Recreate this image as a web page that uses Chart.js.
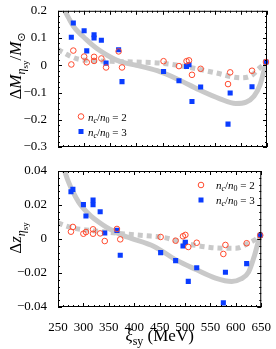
<!DOCTYPE html>
<html>
<head>
<meta charset="utf-8">
<script src="https://cdn.jsdelivr.net/npm/chart.js@4"></script>
<style>
  body { margin: 0; background: #fff; }
  #marco { position: relative; width: 276px; height: 349px; }
  canvas { position: absolute; left: 0; }
</style>
</head>
<body>
<div id="marco">
  <canvas id="panelM" width="276" height="160" style="top:0;width:276px;height:160px"></canvas>
  <canvas id="panelZ" width="276" height="189" style="top:160px;width:276px;height:189px"></canvas>
</div>
<script>
// valores de xi_sy (MeV) de cada modelo
const xiSy = [275.5, 279.3, 300, 305, 319, 319, 333, 342, 366, 372.5, 452, 481.5, 496, 500.7, 506.4, 523, 575.4, 579.5, 621.3, 648];

// Delta M / M_sun
const dM_nc2 = [0.003, 0.054, 0.032, 0.011, 0.031, 0.016, 0.025, -0.008, 0.051, -0.008, 0.015, -0.003, 0.015, 0.018, -0.035, -0.013, -0.069, -0.026, -0.020, 0.012];
const dM_nc3 = [0.103, 0.155, 0.127, 0.053, 0.112, 0.100, 0.092, 0.008, 0.057, -0.060, -0.023, -0.057, -0.004, 0.002, -0.133, -0.080, -0.216, -0.102, -0.079, 0.012];

// Delta z
const dz_nc2 = [0.0043, 0.0071, 0.0031, 0.0041, 0.0057, 0.0031, 0.0033, -0.0012, 0.0059, -0.0002, 0.0012, -0.0010, 0.0016, 0.0024, -0.0047, -0.0022, -0.0088, -0.0035, -0.0025, 0.0022];
const dz_nc3 = [0.0278, 0.0292, 0.0202, 0.0135, 0.0229, 0.0202, 0.0160, 0.0035, 0.0051, -0.0096, -0.0080, -0.0127, -0.0041, -0.0020, -0.0249, -0.0169, -0.0376, -0.0196, -0.0145, 0.0022];

// curvas grises (ajustes)
const curvaM3_x = [263, 270, 280, 290, 300, 315, 330, 345, 362, 380, 400, 440, 480, 520, 560, 590, 610, 625, 637, 645, 650];
const curvaM3_y = [0.2, 0.175, 0.142, 0.12, 0.102, 0.076, 0.054, 0.036, 0.019, 0.008, 0.0, -0.02, -0.052, -0.09, -0.123, -0.14, -0.135, -0.114, -0.07, -0.015, 0.012];
const curvaM2_x = [250, 262, 275, 290, 320, 360, 400, 450, 500, 550, 600, 620, 637, 650];
const curvaM2_y = [0.058, 0.045, 0.032, 0.022, 0.017, 0.014, 0.012, 0.007, -0.007, -0.027, -0.046, -0.038, -0.008, 0.012];
const curvaZ3_x = [263, 270, 279, 290, 300, 315, 330, 345, 362, 380, 394, 440, 483, 522, 560, 592, 610, 625, 637, 645, 650];
const curvaZ3_y = [0.04, 0.034, 0.028, 0.022, 0.018, 0.0135, 0.010, 0.007, 0.0043, 0.0018, 0.0004, -0.0045, -0.0124, -0.018, -0.023, -0.025, -0.0235, -0.0195, -0.0094, -0.001, 0.0022];
const curvaZ2_x = [250, 265, 280, 300, 340, 380, 420, 460, 500, 550, 600, 625, 640, 650];
const curvaZ2_y = [0.0095, 0.0078, 0.0065, 0.0055, 0.0042, 0.003, 0.002, 0.0008, -0.0025, -0.005, -0.0055, -0.0025, 0.0, 0.0022];

// etiquetas de los ejes
const ticksX = [250, 300, 350, 400, 450, 500, 550, 600, 650];
const ticksM = [-0.3, -0.2, -0.1, 0, 0.1, 0.2];
const ticksZ = [-0.04, -0.02, 0, 0.02, 0.04];

const SERIF = "'Liberation Serif', 'DejaVu Serif', serif";
const ROJO = "#ff4a2e";
const AZUL = "#0a3cff";
const GRIS = "#c9c9c9";

function puntos(xs, ys) {
    return xs.map((x, i) => ({ x: x, y: ys[i] }));
}

function formato(v, dec) {
    if (Math.abs(v) < 1e-9) return "0";
    return (v < 0 ? "\u2212" : "") + Math.abs(v).toFixed(dec);
}

// texto con subindices: partes = [texto, fuente, dy]
function anchoRico(ctx, partes) {
    let w = 0;
    partes.forEach(p => { ctx.font = p[1]; w += ctx.measureText(p[0]).width; });
    return w;
}
function textoRico(ctx, partes, x, y) {
    let cx = x;
    partes.forEach(p => {
        ctx.font = p[1];
        ctx.fillText(p[0], cx, y + p[2]);
        cx += ctx.measureText(p[0]).width;
    });
}

function leyenda(n) {
    return [
        ["n", "italic 11px " + SERIF, 0],
        ["c", "italic 8px " + SERIF, 2],
        ["/", "11px " + SERIF, 0],
        ["n", "italic 11px " + SERIF, 0],
        ["0", "8px " + SERIF, 2],
        [" = " + n, "11px " + SERIF, 0]
    ];
}

// marco, ticks hacia dentro, titulos y leyenda
function pluginMarco(cfg) {
    return {
        id: "marco",
        afterDraw(chart) {
            const ctx = chart.ctx;
            const a = chart.chartArea;
            const sx = chart.scales.x, sy = chart.scales.y;
            ctx.save();
            ctx.strokeStyle = "#000";
            ctx.lineWidth = 1;
            ctx.strokeRect(a.left + 0.5, a.top + 0.5, a.right - a.left - 1, a.bottom - a.top - 1);
            ctx.beginPath();
            for (let v = 250; v <= 650; v += 10) {
                const px = Math.round(sx.getPixelForValue(v)) + 0.5;
                const l = v % 50 === 0 ? 4 : 2;
                ctx.moveTo(px, a.bottom); ctx.lineTo(px, a.bottom - l);
                ctx.moveTo(px, a.top); ctx.lineTo(px, a.top + l);
            }
            for (let k = 0; k <= cfg.nMenor; k++) {
                const v = cfg.min + k * cfg.paso;
                const py = Math.round(sy.getPixelForValue(v)) + 0.5;
                const l = k % 5 === 0 ? 4 : 2;
                ctx.moveTo(a.left, py); ctx.lineTo(a.left + l, py);
                ctx.moveTo(a.right, py); ctx.lineTo(a.right - l, py);
            }
            ctx.stroke();

            // titulo eje y
            ctx.fillStyle = "#000";
            ctx.textBaseline = "alphabetic";
            ctx.translate(cfg.tituloY[0], cfg.tituloY[1]);
            ctx.rotate(-Math.PI / 2);
            const w = anchoRico(ctx, cfg.partesY);
            textoRico(ctx, cfg.partesY, -w / 2, 0);
            ctx.setTransform(1, 0, 0, 1, 0, 0);

            // titulo eje x
            if (cfg.partesX) {
                const wx = anchoRico(ctx, cfg.partesX);
                textoRico(ctx, cfg.partesX, (a.left + a.right) / 2 - wx / 2, cfg.tituloXy);
            }

            // leyenda
            const lx = cfg.leyenda[0], ly = cfg.leyenda[1], tx = cfg.leyenda[2];
            ctx.lineWidth = 1;
            ctx.strokeStyle = ROJO;
            ctx.beginPath();
            ctx.arc(lx, ly, 2.8, 0, Math.PI * 2);
            ctx.stroke();
            ctx.fillStyle = AZUL;
            ctx.fillRect(lx - 2.5, ly + 15 - 2.5, 5, 5);
            ctx.fillStyle = "#000";
            textoRico(ctx, leyenda(2), tx, ly + 4);
            textoRico(ctx, leyenda(3), tx, ly + 19);
            ctx.restore();
        }
    };
}

function crearPanel(id, datos2, datos3, c3x, c3y, c2x, c2y, ticksY, dec, cfg) {
    const ctx = document.getElementById(id).getContext("2d");
    return new Chart(ctx, {
        type: "scatter",
        data: {
            datasets: [
                {
                    data: puntos(xiSy, datos2),
                    pointStyle: "circle",
                    pointRadius: 2.8,
                    borderWidth: 1,
                    borderColor: ROJO,
                    backgroundColor: "rgba(0,0,0,0)",
                    order: 0,
                    clip: 6
                },
                {
                    data: puntos(xiSy, datos3),
                    pointStyle: "rect",
                    pointRadius: 3.6,
                    borderWidth: 0,
                    backgroundColor: AZUL,
                    order: 1,
                    clip: 6
                },
                {
                    data: puntos(c2x, c2y),
                    showLine: true,
                    pointRadius: 0,
                    borderColor: GRIS,
                    borderWidth: 5,
                    borderDash: [5, 4],
                    cubicInterpolationMode: "monotone",
                    order: 2,
                    clip: 0
                },
                {
                    data: puntos(c3x, c3y),
                    showLine: true,
                    pointRadius: 0,
                    borderColor: GRIS,
                    borderWidth: 5,
                    cubicInterpolationMode: "monotone",
                    order: 3,
                    clip: 0
                }
            ]
        },
        options: {
            responsive: false,
            animation: false,
            events: [],
            layout: { padding: { top: cfg.arriba, right: 9, left: 0, bottom: 0 } },
            plugins: { legend: { display: false }, tooltip: { enabled: false } },
            scales: {
                x: {
                    type: "linear",
                    min: 250,
                    max: 650,
                    grid: { display: false },
                    border: { display: false },
                    afterBuildTicks: s => { s.ticks = ticksX.map(v => ({ value: v })); },
                    afterFit: s => { s.height = cfg.altoX; },
                    ticks: {
                        display: cfg.etiquetasX,
                        padding: 5,
                        color: "#000",
                        maxRotation: 0,
                        autoSkip: false,
                        font: { family: SERIF, size: 13 },
                        callback: v => String(v)
                    }
                },
                y: {
                    min: ticksY[0],
                    max: ticksY[ticksY.length - 1],
                    grid: { display: false },
                    border: { display: false },
                    afterBuildTicks: s => { s.ticks = ticksY.map(v => ({ value: v })); },
                    afterFit: s => { s.width = 58; },
                    ticks: {
                        padding: 3,
                        color: "#000",
                        autoSkip: false,
                        font: { family: SERIF, size: 13 },
                        callback: v => formato(v, dec)
                    }
                }
            }
        },
        plugins: [pluginMarco(cfg)]
    });
}

document.addEventListener("DOMContentLoaded", function () {
    crearPanel("panelM", dM_nc2, dM_nc3, curvaM3_x, curvaM3_y, curvaM2_x, curvaM2_y, ticksM, 1, {
        arriba: 10,
        altoX: 13,
        etiquetasX: false,
        min: -0.3, paso: 0.02, nMenor: 25,
        tituloY: [21, 66],
        partesY: [
            ["\u0394", "17px " + SERIF, 0],
            ["M", "italic 17px " + SERIF, 0],
            ["\u03b7", "italic 12px " + SERIF, 4],
            ["sy", "9px " + SERIF, 7],
            ["/", "17px " + SERIF, 0],
            ["M", "italic 17px " + SERIF, 0],
            ["\u2299", "11px 'DejaVu Sans'", 4]
        ],
        leyenda: [81, 116.5, 88]
    });

    crearPanel("panelZ", dz_nc2, dz_nc3, curvaZ3_x, curvaZ3_y, curvaZ2_x, curvaZ2_y, ticksZ, 2, {
        arriba: 11,
        altoX: 42,
        etiquetasX: true,
        min: -0.04, paso: 0.004, nMenor: 20,
        tituloY: [21, 78],
        partesY: [
            ["\u0394", "17px " + SERIF, 0],
            ["z", "italic 17px " + SERIF, 0],
            ["\u03b7", "italic 12px " + SERIF, 4],
            ["sy", "9px " + SERIF, 7]
        ],
        partesX: [
            ["\u03be", "italic 17px " + SERIF, 0],
            ["sy", "12px " + SERIF, 4],
            [" (MeV)", "17px " + SERIF, 0]
        ],
        tituloXy: 181,
        leyenda: [201, 25, 216]
    });
});
</script>
</body>
</html>
